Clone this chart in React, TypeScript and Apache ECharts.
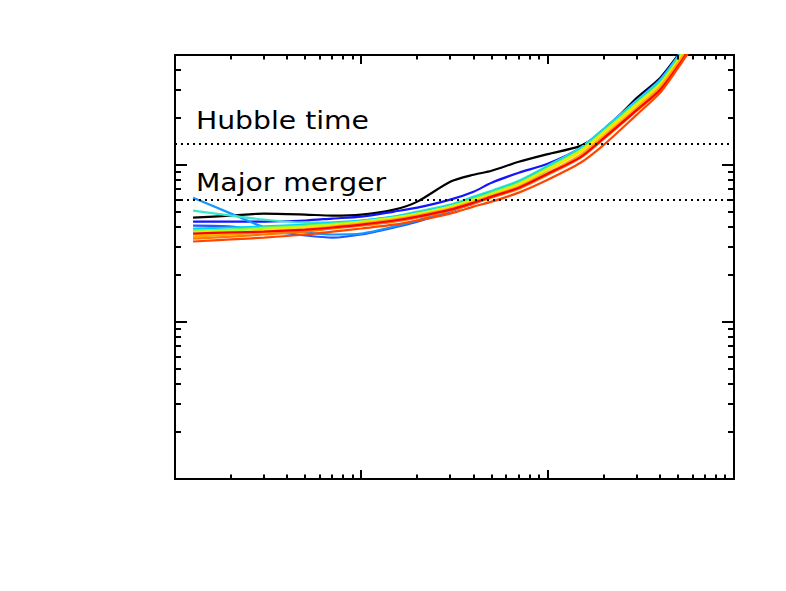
import React, { useEffect, useRef } from "react";
import * as echarts from "echarts";

// ---- data (x: shared sample positions, y: one array per curve) ----
const xValues = [0.125, 0.2, 0.3, 0.5, 0.7, 1, 1.5, 2, 3, 4, 5, 7, 10, 15, 20, 30, 40, 50, 60];

const blackY = [4.61, 4.75, 4.89, 4.82, 4.75, 4.82, 5.18, 5.83, 7.8, 8.64, 9.16, 10.45, 11.7, 13.2, 16.4, 26.6, 35.6, 49.8, 68.7];
const blueY = [4.35, 4.35, 4.35, 4.42, 4.55, 4.68, 5.04, 5.34, 6.0, 6.74, 7.69, 8.9, 10.15, 12.8, 16.9, 25.8, 35.1, 49.1, 67.7];
const mediumBlueY = [4.1, 4.05, 3.82, 3.55, 3.44, 3.6, 3.99, 4.35, 5.04, 5.74, 6.36, 7.47, 9.3, 12.3, 16.4, 25.1, 34.1, 48.4, 66.7];
const lightBlueY = [6.18, 4.89, 4.02, 3.71, 3.6, 3.65, 4.05, 4.42, 5.11, 5.66, 6.27, 7.36, 9.3, 12.45, 16.7, 25.5, 34.6, 49.1, 67.7];
const turquoiseY = [5.11, 4.75, 4.48, 4.29, 4.29, 4.42, 4.68, 5.04, 5.58, 6.27, 6.84, 7.91, 9.85, 12.8, 16.9, 25.5, 34.1, 48.4, 66.7];
const cyanY = [3.93, 3.99, 4.05, 4.16, 4.29, 4.42, 4.68, 4.96, 5.5, 6.18, 6.74, 7.8, 9.71, 12.6, 16.7, 25.1, 33.6, 47.7, 65.8];
const greenY = [3.82, 3.87, 3.99, 4.1, 4.23, 4.35, 4.61, 4.89, 5.42, 6.09, 6.65, 7.69, 9.57, 12.45, 16.4, 24.7, 33.1, 47.0, 64.8];
const yellowGreenY = [3.76, 3.82, 3.93, 4.05, 4.16, 4.35, 4.61, 4.89, 5.42, 6.0, 6.55, 7.58, 9.43, 12.3, 16.2, 24.4, 32.6, 46.3, 63.9];
const yellowY = [3.55, 3.65, 3.82, 3.99, 4.1, 4.29, 4.55, 4.82, 5.34, 5.91, 6.45, 7.47, 9.3, 12.1, 15.95, 24.0, 32.2, 45.6, 63.0];
const orangeY = [3.49, 3.6, 3.71, 3.87, 4.05, 4.23, 4.48, 4.75, 5.26, 5.83, 6.36, 7.25, 8.9, 11.57, 15.3, 23.0, 31.2, 44.4, 61.1];
const darkOrangeY = [3.39, 3.49, 3.6, 3.76, 3.93, 4.1, 4.35, 4.61, 5.11, 5.66, 6.18, 7.05, 8.64, 11.07, 14.6, 22.0, 29.5, 41.8, 57.7];
const redY = [3.65, 3.71, 3.76, 3.87, 3.99, 4.16, 4.42, 4.68, 5.18, 5.74, 6.27, 7.15, 8.77, 11.2, 14.8, 22.3, 29.9, 42.4, 58.5];
const orangeRedY = [3.25, 3.35, 3.44, 3.6, 3.76, 3.93, 4.16, 4.42, 4.89, 5.42, 5.83, 6.65, 8.03, 10.3, 13.4, 20.8, 28.6, 41.2, 56.8];

const hubbleTime = 13.7;
const majorMerger = 6.0;

const xMin = 0.1;
const xMax = 100;
const yMin = 0.1;
const yMax = 50;

const xMajorTicks = [1, 10];
const xMinorTicks = [0.2, 0.3, 0.4, 0.5, 0.6, 0.7, 0.8, 0.9, 2, 3, 4, 5, 6, 7, 8, 9, 20, 30, 40, 50, 60, 70, 80, 90];
const yMajorTicks = [1, 10];
const yMinorTicks = [0.2, 0.3, 0.4, 0.5, 0.6, 0.7, 0.8, 0.9, 2, 3, 4, 5, 6, 7, 8, 9, 20, 30, 40];

const curves = [
  { name: "c0", y: blackY, color: "#000000" },
  { name: "c1", y: blueY, color: "#1414ff" },
  { name: "c2", y: mediumBlueY, color: "#1e5aff" },
  { name: "c3", y: lightBlueY, color: "#1496ff" },
  { name: "c4", y: turquoiseY, color: "#3ce6c8" },
  { name: "c5", y: cyanY, color: "#00d2ff" },
  { name: "c6", y: greenY, color: "#5af05a" },
  { name: "c7", y: yellowGreenY, color: "#b4ff1e" },
  { name: "c8", y: yellowY, color: "#ffe100" },
  { name: "c9", y: orangeY, color: "#ffa500" },
  { name: "c10", y: darkOrangeY, color: "#ff7800" },
  { name: "c11", y: redY, color: "#ff0000" },
  { name: "c12", y: orangeRedY, color: "#ff4600" },
];

export default function App() {
  const ref = useRef<HTMLDivElement>(null);

  useEffect(() => {
    if (!ref.current) return;
    const chart = echarts.init(ref.current, undefined, { renderer: "svg" });

    const lineSeries: any[] = curves.map((c, i) => ({
      type: "line",
      name: c.name,
      data: xValues.map((x, k) => [x, c.y[k]]),
      showSymbol: false,
      symbol: "none",
      smooth: 0.25,
      clip: true,
      lineStyle: { color: c.color, width: 2.2 },
      z: 3 + i * 0.01,
      silent: true,
      ...(i === 0
        ? {
            markLine: {
              silent: true,
              symbol: ["none", "none"],
              label: { show: false },
              lineStyle: { color: "#000", type: [2, 4], width: 2 },
              data: [{ yAxis: hubbleTime }, { yAxis: majorMerger }],
            },
          }
        : {}),
    }));

    const xTickSeries = {
      type: "custom",
      silent: true,
      z: 10,
      data: [...xMajorTicks.map((v) => [v, 1, 1]), ...xMinorTicks.map((v) => [v, 1, 0])],
      renderItem: (params: any, api: any) => {
        const cs = params.coordSys;
        const p = api.coord([api.value(0), 1]);
        const len = api.value(2) ? 9 : 4.5;
        const x = Math.round(p[0]);
        const b = cs.y + cs.height;
        const t = cs.y;
        return {
          type: "group",
          children: [
            { type: "line", shape: { x1: x, y1: b, x2: x, y2: b - len }, style: { stroke: "#000", lineWidth: 2 } },
            { type: "line", shape: { x1: x, y1: t, x2: x, y2: t + len }, style: { stroke: "#000", lineWidth: 2 } },
          ],
        };
      },
    };

    const yTickSeries = {
      type: "custom",
      silent: true,
      z: 10,
      data: [...yMajorTicks.map((v) => [1, v, 1]), ...yMinorTicks.map((v) => [1, v, 0])],
      renderItem: (params: any, api: any) => {
        const cs = params.coordSys;
        const p = api.coord([1, api.value(1)]);
        const len = api.value(2) ? 12 : 6;
        const y = Math.round(p[1]);
        const l = cs.x;
        const r = cs.x + cs.width;
        return {
          type: "group",
          children: [
            { type: "line", shape: { x1: l, y1: y, x2: l + len, y2: y }, style: { stroke: "#000", lineWidth: 2 } },
            { type: "line", shape: { x1: r, y1: y, x2: r - len, y2: y }, style: { stroke: "#000", lineWidth: 2 } },
          ],
        };
      },
    };

    chart.setOption({
      animation: false,
      backgroundColor: "#ffffff",
      grid: {
        left: 175,
        right: 52,
        top: 55,
        bottom: 112,
        show: true,
        borderColor: "#000",
        borderWidth: 2,
        backgroundColor: "transparent",
      },
      xAxis: {
        type: "log",
        logBase: 10,
        min: xMin,
        max: xMax,
        axisLine: { show: false },
        axisTick: { show: false },
        axisLabel: { show: false },
        splitLine: { show: false },
      },
      yAxis: {
        type: "log",
        logBase: 10,
        min: yMin,
        max: yMax,
        axisLine: { show: false },
        axisTick: { show: false },
        axisLabel: { show: false },
        splitLine: { show: false },
      },
      graphic: [
        {
          type: "text",
          x: 196,
          y: 120.5,
          scaleX: 1.13,
          silent: true,
          style: {
            text: "Hubble time",
            x: 0,
            y: 0,
            font: '25px "DejaVu Sans"',
            fill: "#000",
            textAlign: "left",
            textVerticalAlign: "middle",
          },
        },
        {
          type: "text",
          x: 196,
          y: 182.5,
          scaleX: 1.13,
          silent: true,
          style: {
            text: "Major merger",
            x: 0,
            y: 0,
            font: '25px "DejaVu Sans"',
            fill: "#000",
            textAlign: "left",
            textVerticalAlign: "middle",
          },
        },
      ],
      series: [...lineSeries, xTickSeries, yTickSeries],
    });

    return () => chart.dispose();
  }, []);

  return (
    <div
      ref={ref}
      style={{ position: "absolute", left: 0, top: 0, width: 786, height: 591 }}
    />
  );
}
